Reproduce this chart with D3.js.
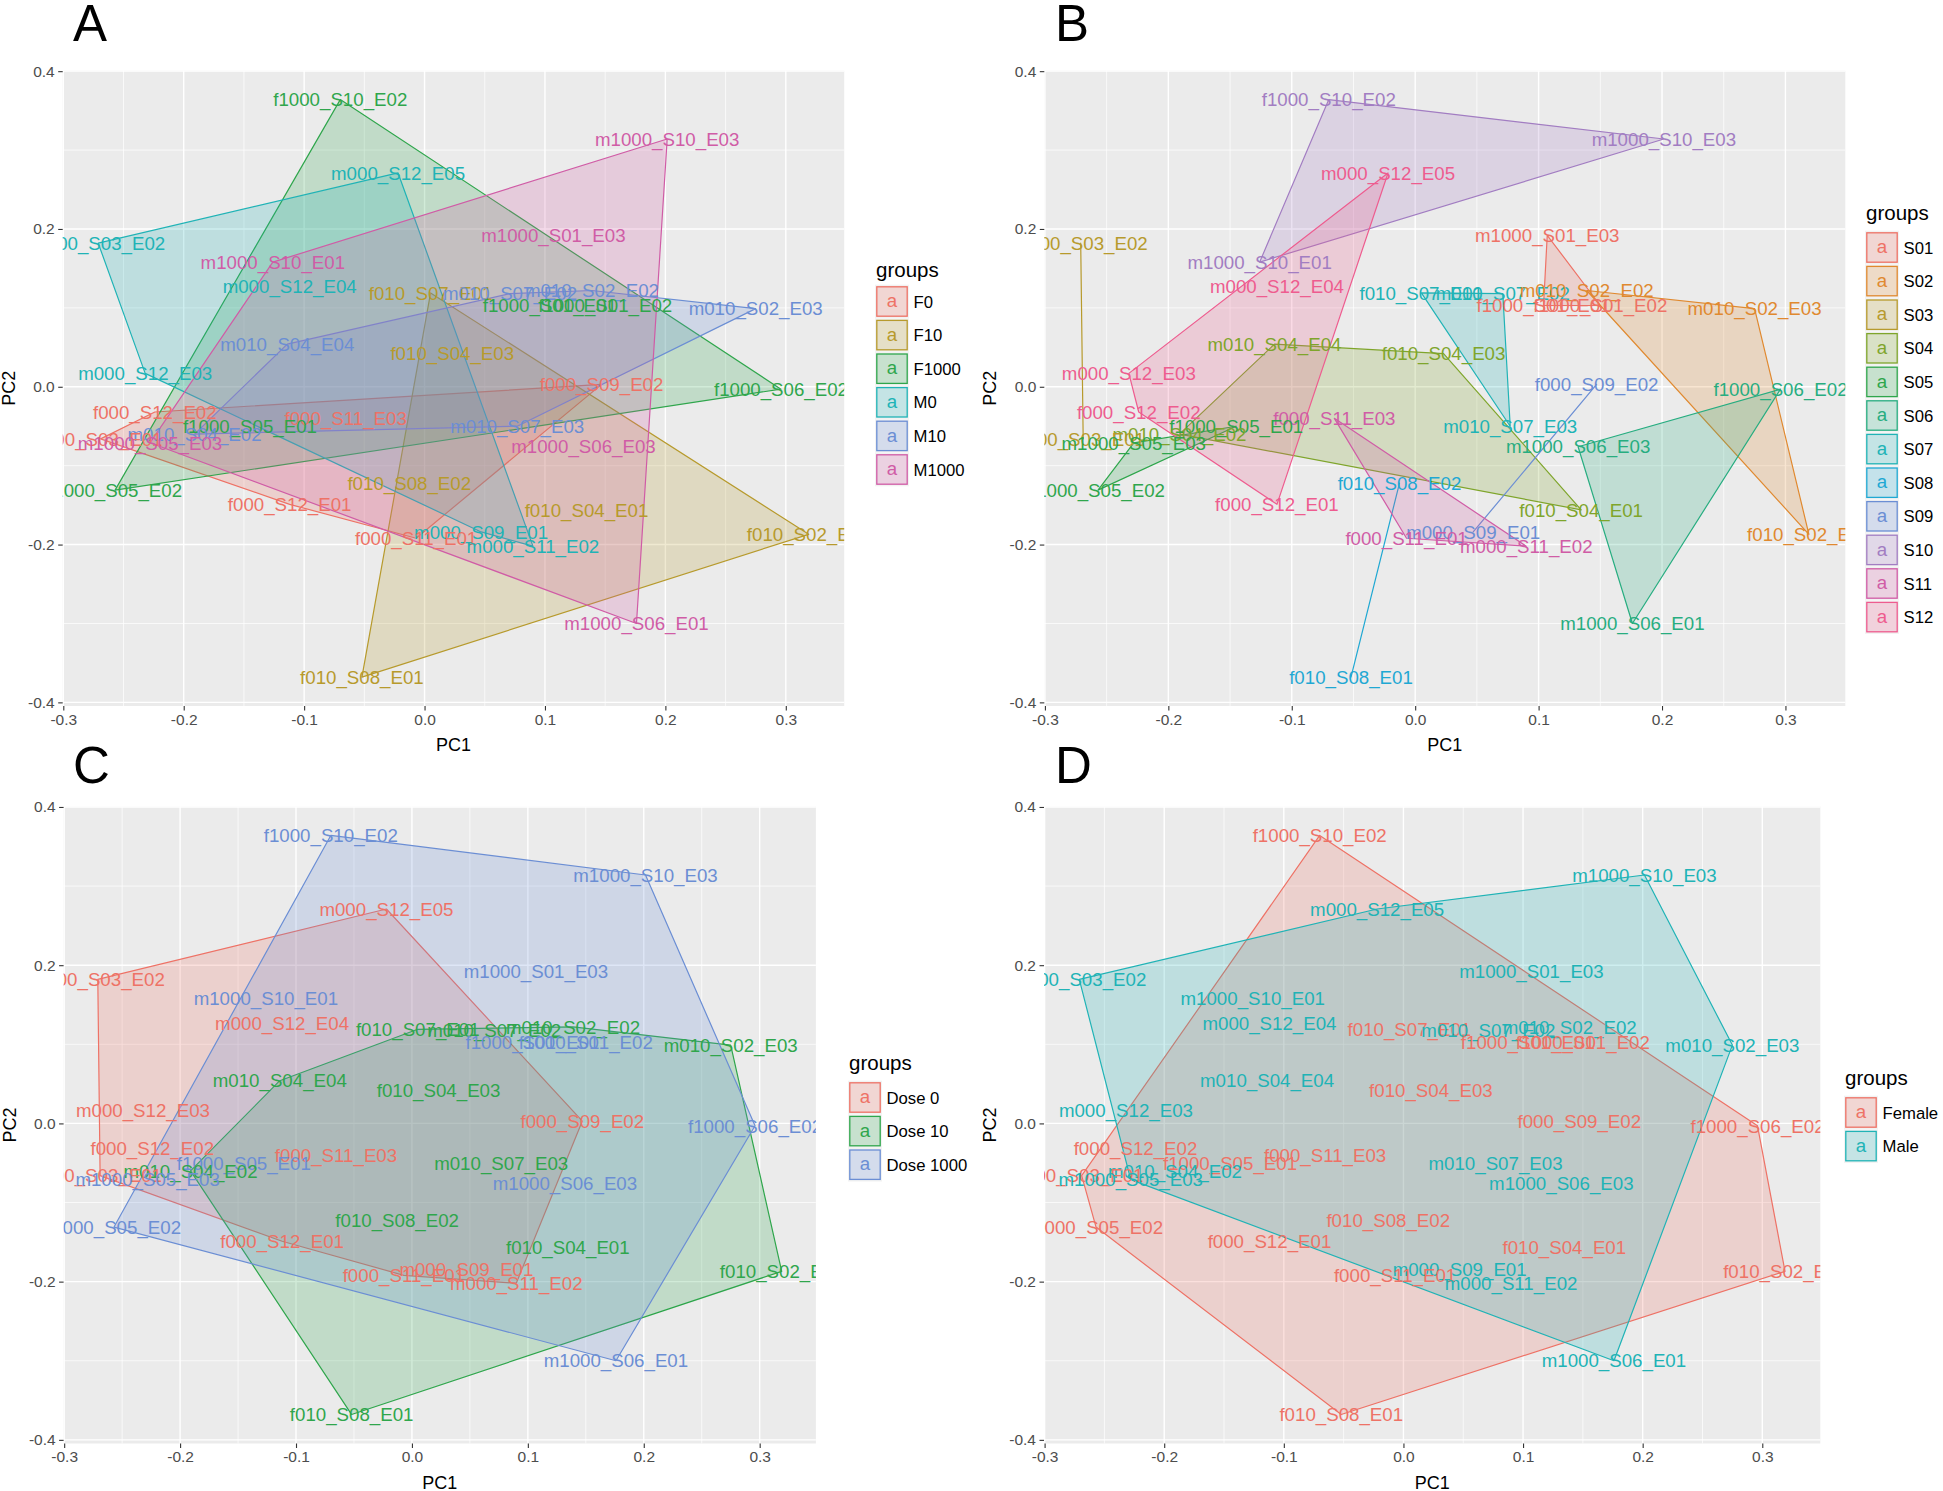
<!DOCTYPE html>
<html><head><meta charset="utf-8">
<script src="https://cdn.jsdelivr.net/npm/d3@7"></script>
<style>
body{margin:0;background:#fff;}
svg{display:block;font-family:"Liberation Sans",Arial,Helvetica,sans-serif;}
</style>
</head><body>
<svg id="chart" width="1943" height="1491"></svg>
<script>
// ---------- data ----------
const sampleNames = [
  "f1000_S10_E02","m1000_S10_E03","m000_S12_E05","m000_S03_E02","m1000_S01_E03","m1000_S10_E01",
  "m000_S12_E04","f010_S07_E01","m010_S07_E02","m010_S02_E02","f1000_S01_E01","f1000_S01_E02",
  "m010_S02_E03","m010_S04_E04","f010_S04_E03","m000_S12_E03","f1000_S06_E02","f000_S09_E02",
  "f000_S12_E02","f000_S11_E03","f1000_S05_E01","m010_S07_E03","m010_S04_E02","f000_S03_E01",
  "m1000_S05_E03","m1000_S06_E03","f010_S08_E02","f1000_S05_E02","f000_S12_E01","f010_S04_E01",
  "m000_S09_E01","f010_S02_E01","f000_S11_E01","m000_S11_E02","m1000_S06_E01","f010_S08_E01"
];
const pc1 = [
  -0.070, 0.2015, -0.022, -0.271, 0.107, -0.126,
  -0.112, 0.005, 0.071, 0.139, 0.104, 0.150,
   0.275, -0.114, 0.023, -0.232, 0.296, 0.147,
  -0.224, -0.0655, -0.145, 0.077, -0.191, -0.269,
  -0.228, 0.132, -0.0127, -0.257, -0.112, 0.1345,
   0.047, 0.319, -0.007, 0.090, 0.176, -0.052
];
const pc2 = [
   0.364, 0.314, 0.271, 0.182, 0.192, 0.158,
   0.127, 0.119, 0.118, 0.122, 0.103, 0.103,
   0.099, 0.054, 0.042, 0.017, -0.003, 0.003,
  -0.032, -0.040, -0.050, -0.050, -0.060, -0.066,
  -0.071, -0.076, -0.122, -0.131, -0.149, -0.156,
  -0.184, -0.187, -0.192, -0.202, -0.300, -0.368
];
const xTicks = [-0.3,-0.2,-0.1,0,0.1,0.2,0.3];
const yTicks = [-0.4,-0.2,0,0.2,0.4];
const xMinor = [-0.25,-0.15,-0.05,0.05,0.15,0.25];
const yMinor = [-0.3,-0.1,0.1,0.3];

const groupsSexDose = ["F0","F10","F1000","M0","M10","M1000"];
const groupsSubject = ["S01","S02","S03","S04","S05","S06","S07","S08","S09","S10","S11","S12"];
const groupsDose = ["Dose 0","Dose 10","Dose 1000"];
const groupsSex = ["Female","Male"];

const colors6 = ["#EE7266","#B79A2C","#2FA64C","#20B3B6","#6B8ED4","#D05CA6"];
const colors12 = ["#EE7266","#E0892F","#B79A2C","#7FA52B","#2FA64C","#27AD80","#20B3B6","#1FA8D3","#6B8ED4","#A27DC2","#D05CA6","#EE5C8F"];
const colors3 = ["#EE7266","#2FA64C","#6B8ED4"];
const colors2 = ["#EE7266","#20B3B6"];

// ---------- group keys ----------
function parts(n){ const p = n.split("_"); return {sex:p[0][0], dose:+p[0].slice(1), subj:p[1]}; }
const keyA = n => { const p = parts(n); return (p.sex==="f"?"F":"M") + p.dose; };
const keyB = n => parts(n).subj;
const keyC = n => "Dose " + parts(n).dose;
const keyD = n => parts(n).sex==="f" ? "Female" : "Male";

const panels = [
  {letter:"A", box:{x0:62.7,x1:844.2,y0:70.7,y1:706}, lx:73, ly:41, leg:{x:876,titleY:270,keyTop:286}, key:keyA, groups:groupsSexDose, colors:colors6},
  {letter:"B", box:{x0:1044.3,x1:1845.3,y0:70.7,y1:706}, lx:1055, ly:41, leg:{x:1866,titleY:213,keyTop:232}, key:keyB, groups:groupsSubject, colors:colors12},
  {letter:"C", box:{x0:63.6,x1:815.9,y0:806.5,y1:1443.5}, lx:73, ly:783, leg:{x:849,titleY:1063,keyTop:1082}, key:keyC, groups:groupsDose, colors:colors3},
  {letter:"D", box:{x0:1044,x1:1820.3,y0:806.5,y1:1443.5}, lx:1055, ly:783, leg:{x:1845,titleY:1078,keyTop:1097}, key:keyD, groups:groupsSex, colors:colors2}
];

const svg = d3.select("#chart");
const fmt = d => d.toFixed(1);
const xExt = d3.extent(pc1), yExt = d3.extent(pc2);
const xPad = (xExt[1]-xExt[0])*0.05, yPad = (yExt[1]-yExt[0])*0.05;
const xDom = [xExt[0]-xPad, xExt[1]+xPad], yDom = [yExt[0]-yPad, yExt[1]+yPad];
const idx = d3.range(sampleNames.length);

panels.forEach((P, pi) => {
  const b = P.box;
  const x = d3.scaleLinear().domain(xDom).range([b.x0, b.x1]);
  const y = d3.scaleLinear().domain(yDom).range([b.y1, b.y0]);
  const color = d3.scaleOrdinal().domain(P.groups).range(P.colors);
  const g = svg.append("g");

  // panel background + grid
  g.append("rect").attr("x", b.x0).attr("y", b.y0).attr("width", b.x1-b.x0).attr("height", b.y1-b.y0).attr("fill", "#EBEBEB");
  g.selectAll(".vmin").data(xMinor).enter().append("line")
    .attr("x1", d=>x(d)).attr("x2", d=>x(d)).attr("y1", b.y0).attr("y2", b.y1)
    .attr("stroke", "#fff").attr("stroke-width", 0.7);
  g.selectAll(".hmin").data(yMinor).enter().append("line")
    .attr("y1", d=>y(d)).attr("y2", d=>y(d)).attr("x1", b.x0).attr("x2", b.x1)
    .attr("stroke", "#fff").attr("stroke-width", 0.7);
  g.selectAll(".vmaj").data(xTicks).enter().append("line")
    .attr("x1", d=>x(d)).attr("x2", d=>x(d)).attr("y1", b.y0).attr("y2", b.y1)
    .attr("stroke", "#fff").attr("stroke-width", 1.4);
  g.selectAll(".hmaj").data(yTicks).enter().append("line")
    .attr("y1", d=>y(d)).attr("y2", d=>y(d)).attr("x1", b.x0).attr("x2", b.x1)
    .attr("stroke", "#fff").attr("stroke-width", 1.4);

  // clip
  const cid = "clip" + pi;
  svg.append("clipPath").attr("id", cid).append("rect")
    .attr("x", b.x0).attr("y", b.y0).attr("width", b.x1-b.x0).attr("height", b.y1-b.y0);
  const plot = g.append("g").attr("clip-path", `url(#${cid})`);

  // hulls
  P.groups.forEach(gr => {
    const members = idx.filter(i => P.key(sampleNames[i]) === gr);
    if (!members.length) return;
    const pts = members.map(i => [x(pc1[i]), y(pc2[i])]);
    const hull = pts.length >= 3 ? (d3.polygonHull(pts) || pts) : pts;
    plot.append("path")
      .attr("d", "M" + hull.map(p => p.join(",")).join("L") + "Z")
      .attr("fill", color(gr)).attr("fill-opacity", 0.22)
      .attr("stroke", color(gr)).attr("stroke-width", 1.2).attr("stroke-linejoin", "round");
  });

  // labels
  plot.selectAll(".lab").data(idx).enter().append("text")
    .attr("x", i => x(pc1[i])).attr("y", i => y(pc2[i])).attr("dy", "0.36em")
    .attr("text-anchor", "middle").attr("font-size", 18.7)
    .attr("fill", i => color(P.key(sampleNames[i])))
    .text(i => sampleNames[i]);

  // axes
  const ax = g.append("g").attr("transform", `translate(0,${b.y1})`)
    .call(d3.axisBottom(x).tickValues(xTicks).tickFormat(fmt).tickSizeOuter(0).tickSize(4.5).tickPadding(3));
  const ay = g.append("g").attr("transform", `translate(${b.x0},0)`)
    .call(d3.axisLeft(y).tickValues(yTicks).tickFormat(fmt).tickSizeOuter(0).tickSize(4.5).tickPadding(3.5));
  [ax, ay].forEach(a => {
    a.select(".domain").remove();
    a.selectAll(".tick line").attr("stroke", "#333").attr("stroke-width", 1.1);
    a.selectAll(".tick text").attr("fill", "#4D4D4D").attr("font-size", 15.5)
      .attr("font-family", "'Liberation Sans',Arial,Helvetica,sans-serif");
  });

  // axis titles
  g.append("text").attr("x", (b.x0+b.x1)/2).attr("y", b.y1+45).attr("text-anchor", "middle")
    .attr("font-size", 18).attr("fill", "#000").text("PC1");
  g.append("text").attr("transform", `translate(${b.x0-48},${(b.y0+b.y1)/2}) rotate(-90)`)
    .attr("text-anchor", "middle").attr("font-size", 18).attr("fill", "#000").text("PC2");

  // panel letter
  g.append("text").attr("x", P.lx).attr("y", P.ly).attr("font-size", 51).attr("fill", "#000").text(P.letter);

  // legend
  const L = P.leg;
  g.append("text").attr("x", L.x).attr("y", L.titleY).attr("dy", "0.36em")
    .attr("font-size", 20.5).attr("fill", "#000").text("groups");
  const pitch = 33.6;
  P.groups.forEach((gr, k) => {
    const ty = L.keyTop + k*pitch;
    g.append("rect").attr("x", L.x-1).attr("y", ty-1.3).attr("width", 34).attr("height", pitch).attr("fill", "#F2F2F2");
    g.append("rect").attr("x", L.x+0.8).attr("y", ty+0.8).attr("width", 30.4).attr("height", 29.4)
      .attr("fill", color(gr)).attr("fill-opacity", 0.22).attr("stroke", color(gr)).attr("stroke-width", 1.3);
    g.append("text").attr("x", L.x+16).attr("y", ty+15.5).attr("dy", "0.3em").attr("text-anchor", "middle")
      .attr("font-size", 18.7).attr("fill", color(gr)).text("a");
    g.append("text").attr("x", L.x+37.5).attr("y", ty+15.5).attr("dy", "0.36em")
      .attr("font-size", 16.7).attr("fill", "#000").text(gr);
  });
});
</script>
</body></html>
